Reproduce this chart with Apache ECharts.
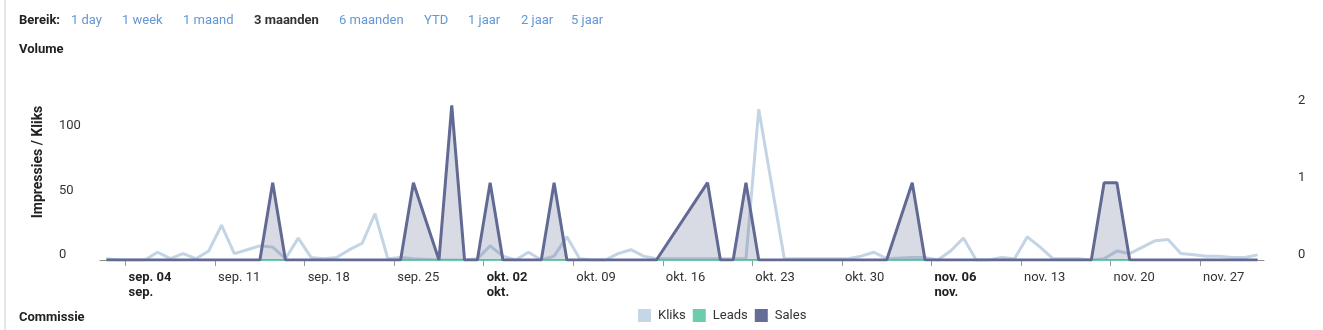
<!DOCTYPE html>
<html>
<head>
<meta charset="utf-8">
<script src="https://cdn.jsdelivr.net/npm/echarts@6/dist/echarts.min.js"></script>
<style>
  html, body { margin: 0; padding: 0; background: #fff; }
  body { width: 1323px; height: 330px; position: relative; overflow: hidden;
         font-family: Roboto, "Noto Sans", sans-serif; font-size: 13px; color: #333; }
  #edge { position: absolute; left: 4px; top: 0; width: 2px; height: 330px; background: #e6e6e6; }
  #chart { position: absolute; left: 0; top: 0; width: 1323px; height: 330px; }
  .row { position: absolute; line-height: 15px; white-space: nowrap; }
  .row span { position: absolute; top: 0; }
  .lnk { color: #6397d6; }
  .act { color: #333; font-weight: bold; }
  .hd { font-weight: bold; color: #222; }
</style>
</head>
<body>
<div id="edge"></div>
<div id="chart"></div>
<div class="row" style="left:0; top:12px; width:700px; height:15px;">
  <span class="hd" style="left:19px">Bereik:</span>
  <span class="lnk" style="left:71px">1 day</span>
  <span class="lnk" style="left:122px">1 week</span>
  <span class="lnk" style="left:183px">1 maand</span>
  <span class="act" style="left:254px">3 maanden</span>
  <span class="lnk" style="left:339px">6 maanden</span>
  <span class="lnk" style="left:424px">YTD</span>
  <span class="lnk" style="left:468px">1 jaar</span>
  <span class="lnk" style="left:521px">2 jaar</span>
  <span class="lnk" style="left:571px">5 jaar</span>
</div>
<div class="row hd" style="left:19px; top:41px;">Volume</div>
<div class="row hd" style="left:19px; top:309px;">Commissie</div>
<script>
// Daily volume, 2 Sep 2023 – 1 Dec 2023 (null = no record for that day)
const firstDay = '2023-09-02';
const kliks = [
  1, 0, 0, 0, 6, 1, 5, 1, 7, 27, 5, 8, 11,
  10, 1, 17, 2, 1, 2, 8, 13, 36, 1, 2, 1, null,
  0, 0, 0, 1, 11, 3, 0, 6, 0, 3, 18, 1, 0,
  0, 5, 8, 3, 1, null, null, null, 1, 1, 1, 1, 117,
  null, 1, 1, 1, 1, 1, 1, 3, 6, 1, null, 2, 2,
  0, 7, 17, 0, 0, 2, 1, 18, 10, 1, 1, 1, 0,
  1, 7, 5, 10, 15, 16, 5, 4, 3, 3, 2, 2, 4
];
const leads = [
  0, 0, 0, 0, 0, 0, 0, 0, 0, 0, 0, 0, 0,
  0, 0, 0, 0, 0, 0, 0, 0, 0, 0, 0, 0, null,
  0, 0, 0, 0, 0, 0, 0, 0, 0, 0, 0, 0, 0,
  0, 0, 0, 0, 0, null, null, null, 0, 0, 0, 0, 0,
  null, 0, 0, 0, 0, 0, 0, 0, 0, 0, null, 0, 0,
  0, 0, 0, 0, 0, 0, 0, 0, 0, 0, 0, 0, 0,
  0, 0, 0, 0, 0, 0, 0, 0, 0, 0, 0, 0, 0
];
const sales = [
  0, 0, 0, 0, 0, 0, 0, 0, 0, 0, 0, 0, 0,
  1, 0, 0, 0, 0, 0, 0, 0, 0, 0, 0, 1, null,
  0, 2, 0, 0, 1, 0, 0, 0, 0, 1, 0, 0, 0,
  0, 0, 0, 0, 0, null, null, null, 1, 0, 0, 1, 0,
  null, 0, 0, 0, 0, 0, 0, 0, 0, 0, null, 1, 0,
  0, 0, 0, 0, 0, 0, 0, 0, 0, 0, 0, 0, 0,
  1, 1, 0, 0, 0, 0, 0, 0, 0, 0, 0, 0, 0
];
// Weekly ticks (Mondays)
const tickDates = [
  '2023-09-04', '2023-09-11', '2023-09-18', '2023-09-25', '2023-10-02',
  '2023-10-09', '2023-10-16', '2023-10-23', '2023-10-30', '2023-11-06',
  '2023-11-13', '2023-11-20', '2023-11-27'
];
const monthNames = ['jan.', 'feb.', 'mrt.', 'apr.', 'mei', 'jun.', 'jul.', 'aug.', 'sep.', 'okt.', 'nov.', 'dec.'];
const leftTicks = [0, 50, 100];
const rightTicks = [0, 1, 2];

const DAY = 86400000;
const parse = s => { const p = s.split('-').map(Number); return Date.UTC(p[0], p[1] - 1, p[2]); };
const origin = parse(tickDates[0]);
const toDay = t => (t - origin) / DAY;
const start = toDay(parse(firstDay));

// points sit at midday of their date
function points(values) {
  const out = [];
  values.forEach((v, i) => { if (v !== null) out.push([start + i + 0.5, v]); });
  return out;
}
const tickDays = tickDates.map(s => toDay(parse(s)));

function tickLabel(val) {
  const d = new Date(origin + Math.round(val) * DAY);
  const day = d.getUTCDate();
  const mon = monthNames[d.getUTCMonth()];
  const txt = mon + ' ' + String(day).padStart(2, '0');
  if (day <= 7) return '{b|' + txt + '}\n{b|' + mon + '}';
  return txt;
}

const font = 'Roboto, "Noto Sans", sans-serif';
const yLabel = {
  align: 'left', color: '#333', fontSize: 13, fontFamily: font,
  verticalAlign: 'bottom', lineHeight: 10
};
const chart = echarts.init(document.getElementById('chart'), null, { renderer: 'canvas' });
chart.setOption({
  animation: false,
  textStyle: { fontFamily: font },
  grid: { left: 100, right: 59, top: 64, bottom: 70 },
  legend: {
    left: 638, top: 309, padding: 0, icon: 'rect', itemWidth: 13, itemHeight: 13, itemGap: 7,
    textStyle: { fontSize: 13, color: '#333', fontFamily: font, padding: [0, 0, 0, 2] },
    data: ['Kliks', 'Leads', 'Sales']
  },
  xAxis: {
    type: 'value',
    min: start,
    max: start + kliks.length,
    splitLine: { show: false },
    axisLine: { lineStyle: { color: '#8c8c8c', width: 1 } },
    axisTick: { customValues: tickDays, length: 6, lineStyle: { color: '#999' } },
    axisLabel: {
      customValues: tickDays,
      formatter: tickLabel,
      align: 'left',
      margin: 10,
      padding: [0, 0, 0, 3],
      fontSize: 13,
      lineHeight: 15,
      color: '#333',
      fontFamily: font,
      rich: { b: { fontWeight: 'bold', fontSize: 13, lineHeight: 15, color: '#222', fontFamily: font } }
    }
  },
  yAxis: [
    {
      type: 'value', min: 0, max: 152.2,
      name: 'Impressies / Kliks', nameLocation: 'middle', nameRotate: 90, nameGap: 55,
      nameTextStyle: { fontWeight: 'bold', fontSize: 14, color: '#222', fontFamily: font },
      splitLine: { show: false }, axisLine: { show: false }, axisTick: { show: false },
      axisLabel: Object.assign({ customValues: leftTicks, margin: 41 }, yLabel)
    },
    {
      type: 'value', min: 0, max: 2.535, position: 'right',
      splitLine: { show: false }, axisLine: { show: false }, axisTick: { show: false },
      axisLabel: Object.assign({ customValues: rightTicks, margin: 34 }, yLabel)
    }
  ],
  series: [
    {
      name: 'Kliks', type: 'line', yAxisIndex: 0, data: points(kliks), symbol: 'none', z: 1,
      itemStyle: { color: '#c5d6e6' }, lineStyle: { color: '#c3d4e5', width: 3 }
    },
    {
      name: 'Leads', type: 'line', yAxisIndex: 1, data: points(leads), symbol: 'none', z: 2,
      itemStyle: { color: '#6ccdab' }, lineStyle: { color: '#6ccba9', width: 2 }
    },
    {
      name: 'Sales', type: 'line', yAxisIndex: 1, data: points(sales), symbol: 'none', z: 3,
      itemStyle: { color: '#656d96' }, lineStyle: { color: '#626a93', width: 3 },
      areaStyle: { color: '#636b94', opacity: 0.25 }
    }
  ]
});
</script>
</body>
</html>
